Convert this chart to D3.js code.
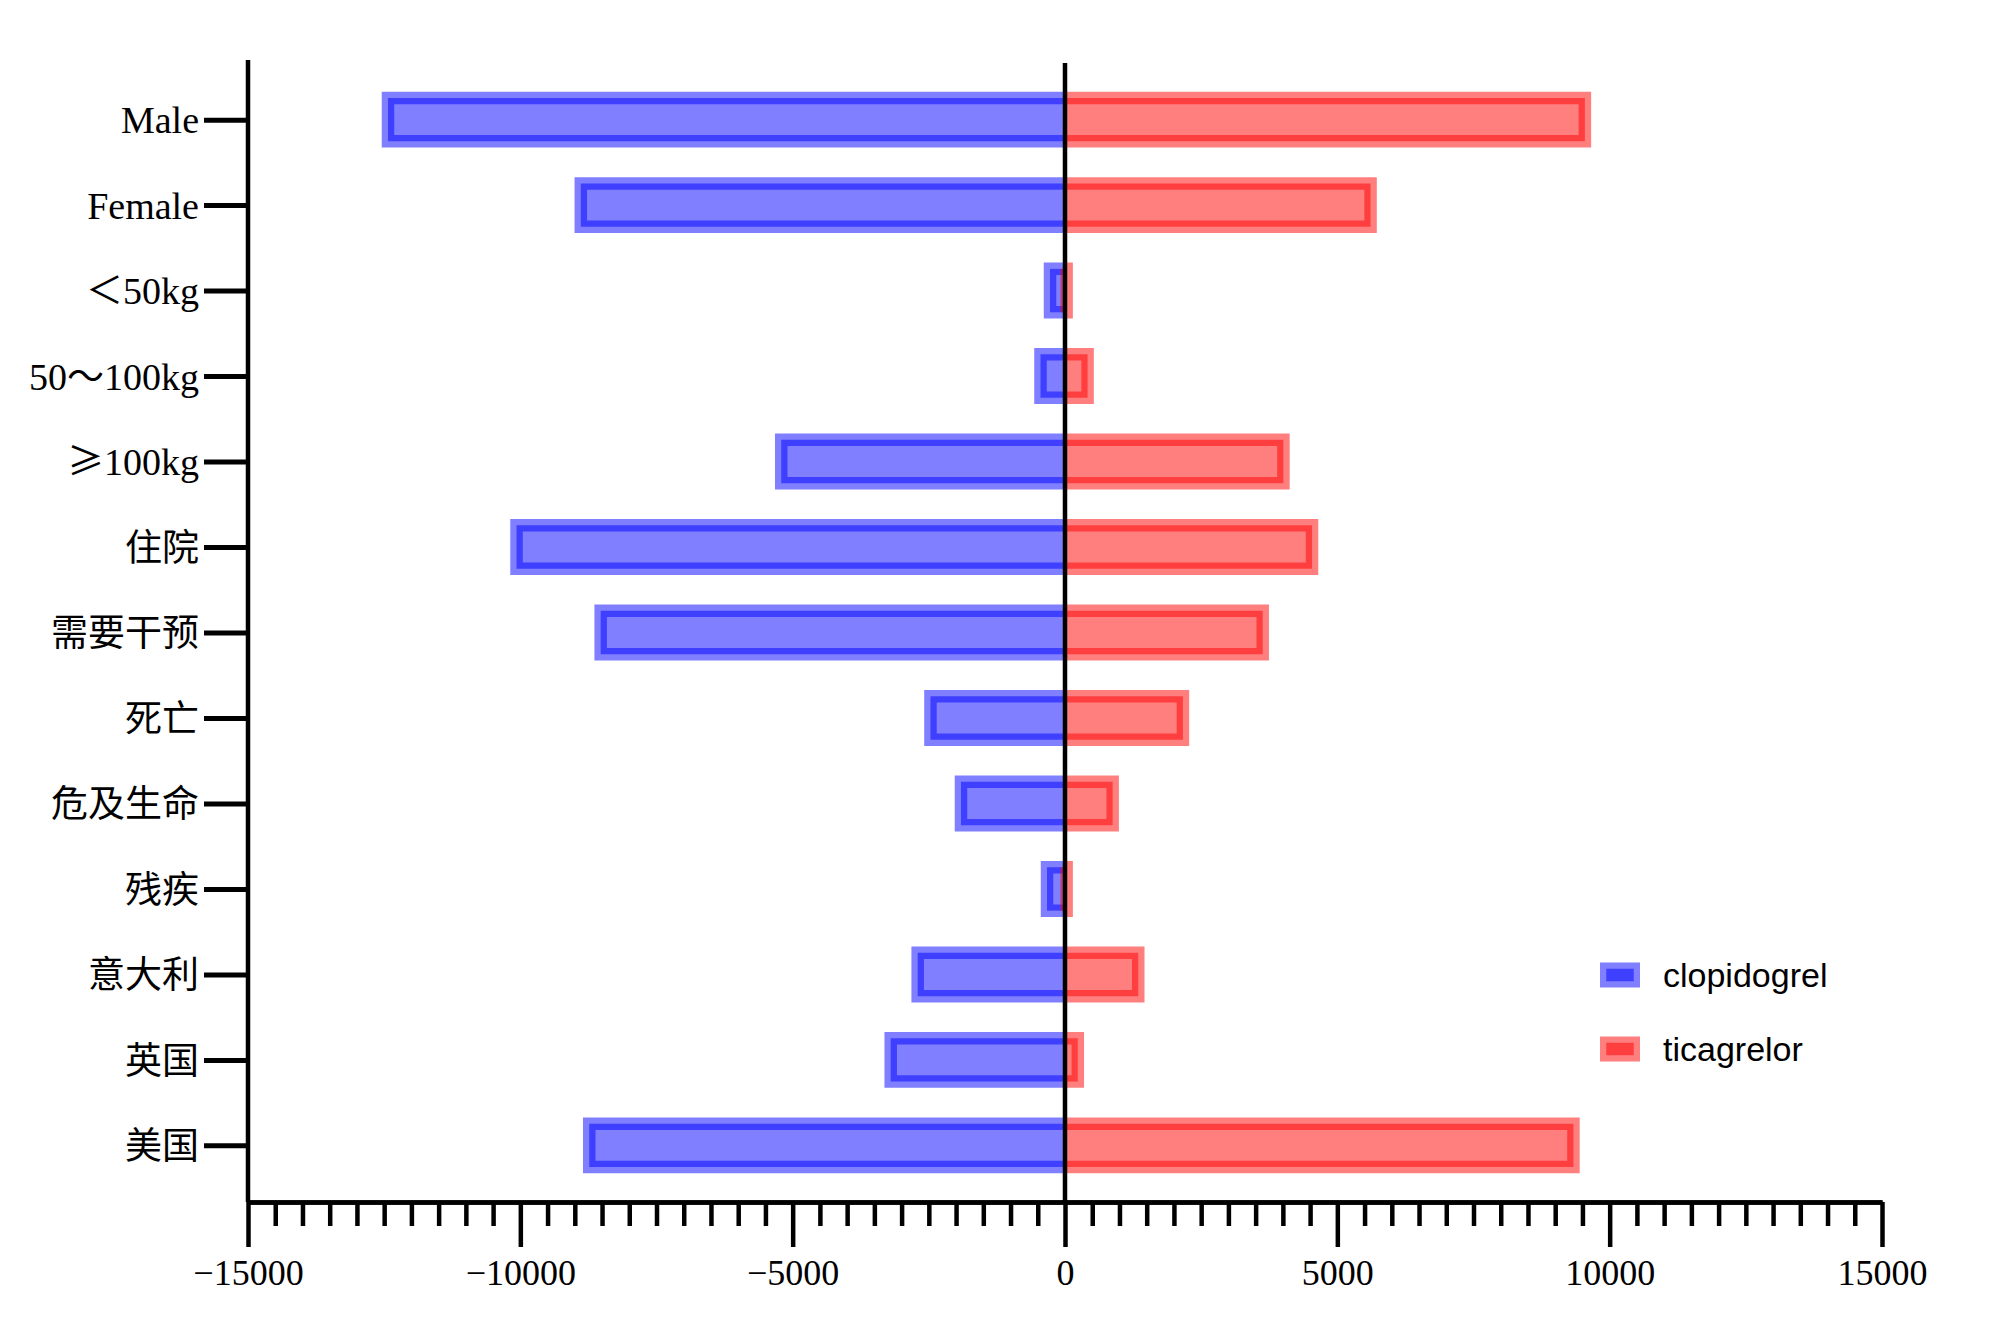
<!DOCTYPE html>
<html>
<head>
<meta charset="utf-8">
<script src="https://cdn.jsdelivr.net/npm/d3@7/dist/d3.min.js"></script>
<style>
  html, body { margin: 0; padding: 0; background: #ffffff; }
  svg { display: block; }
</style>
</head>
<body>
<svg id="chart" width="2000" height="1320"></svg>
<script>
// ---------------- data ----------------
const categories = ["Male", "Female", "＜50kg", "50～100kg", "≥100kg", "住院", "需要干预", "死亡", "危及生命", "残疾", "意大利", "英国", "美国"];
const clopidogrel = [-12430, -8890, -275, -450, -5210, -10070, -8525, -2470, -1910, -330, -2705, -3200, -8735];
const ticagrelor  = [9545, 5610, 30, 415, 4010, 4535, 3630, 2165, 875, 30, 1345, 235, 9335];
const seriesNames = ["clopidogrel", "ticagrelor"];
const majorTicks = [-15000, -10000, -5000, 0, 5000, 10000, 15000];
const xDomain = [-15000, 15000];

// ---------------- layout ----------------
const W = 2000, H = 1320;
const plotLeft = 248, plotRight = 1882, plotTop = 60, axisY = 1202;
const colors = {
  clopidogrel: "rgba(0,0,255,0.5)",
  ticagrelor: "rgba(255,0,0,0.5)"
};
const serifFont = "'Liberation Serif', 'Noto Sans CJK SC', serif";
const cjkFont = "'Noto Sans CJK SC', sans-serif";
const sansFont = "'Liberation Sans', Arial, 'Noto Sans', sans-serif";

const svg = d3.select("#chart");
svg.append("rect").attr("width", W).attr("height", H).attr("fill", "#ffffff");

const x = d3.scaleLinear().domain(xDomain).range([plotLeft, plotRight]);
const y = d3.scalePoint().domain(categories).range([plotTop + 1.5, axisY + 1.5]).padding(0.68);
const barH = y.step() * 0.508;
const strokeW = 12.5;

const rows = categories.map((c, i) => ({ cat: c, clopidogrel: clopidogrel[i], ticagrelor: ticagrelor[i] }));

function barPath(v, c) {
  const x0 = x(0), x1 = x(v), yc = y(c);
  return `M${x0},${yc - barH / 2}H${x1}V${yc + barH / 2}H${x0}`;
}

const bars = svg.append("g");
seriesNames.forEach(s => {
  bars.append("g").selectAll("path")
    .data(rows)
    .join("path")
    .attr("d", d => barPath(d[s], d.cat))
    .attr("fill", colors[s])
    .attr("stroke", colors[s])
    .attr("stroke-width", strokeW)
    .attr("stroke-linejoin", "miter")
    .attr("stroke-linecap", "butt");
});

// zero line
svg.append("line")
  .attr("x1", x(0)).attr("x2", x(0))
  .attr("y1", plotTop + 3).attr("y2", axisY)
  .attr("stroke", "#000").attr("stroke-width", 4.5);

// ---------------- axes ----------------
const minorTicks = d3.range(xDomain[0], xDomain[1] + 1, 500).filter(v => !majorTicks.includes(v));

const gxMinor = svg.append("g").attr("transform", `translate(0,${axisY})`)
  .call(d3.axisBottom(x).tickValues(minorTicks).tickSize(24).tickSizeOuter(0).tickFormat(""));
const gx = svg.append("g").attr("transform", `translate(0,${axisY})`)
  .call(d3.axisBottom(x).tickValues(majorTicks).tickSize(45).tickSizeOuter(0).tickPadding(12)
    .tickFormat(d3.format("d")));

[gxMinor, gx].forEach(g => {
  g.select(".domain").attr("stroke", "#000").attr("stroke-width", 4.5);
  g.selectAll(".tick line").attr("stroke", "#000").attr("stroke-width", 4.5);
});
gx.selectAll(".tick text")
  .attr("font-family", serifFont)
  .attr("font-size", 36)
  .attr("fill", "#000");

const gy = svg.append("g").attr("transform", `translate(${plotLeft},0)`)
  .call(d3.axisLeft(y).tickSize(44).tickSizeOuter(0).tickPadding(5));
gy.select(".domain")
  .attr("d", `M0,${plotTop}V${axisY}`)
  .attr("stroke", "#000").attr("stroke-width", 4.5);
gy.selectAll(".tick line").attr("stroke", "#000").attr("stroke-width", 5);
gy.selectAll(".tick text")
  .attr("font-size", 37)
  .attr("fill", "#000")
  .attr("dy", "0.36em")
  .each(function (d) {
    const t = d3.select(this);
    t.text(null);
    const runs = d.match(/[\x00-\x7F]+|[^\x00-\x7F]+/g) || [];
    runs.forEach(r => {
      const ascii = /^[\x00-\x7F]+$/.test(r);
      t.append("tspan")
        .attr("font-family", ascii ? serifFont : cjkFont)
        .attr("font-size", ascii ? 38 : 37)
        .text(r);
    });
  });

// ---------------- legend ----------------
const legend = svg.append("g").attr("transform", "translate(1600,975)");
seriesNames.forEach((s, i) => {
  const g = legend.append("g").attr("transform", `translate(0,${i * 74})`);
  g.append("rect")
    .attr("x", strokeW / 2).attr("y", -12.5 + strokeW / 2)
    .attr("width", 40 - strokeW).attr("height", 25 - strokeW)
    .attr("fill", colors[s])
    .attr("stroke", colors[s])
    .attr("stroke-width", strokeW);
  g.append("text")
    .attr("x", 63).attr("y", 12)
    .attr("font-family", sansFont)
    .attr("font-size", 34)
    .attr("fill", "#000")
    .text(s);
});
</script>
</body>
</html>
